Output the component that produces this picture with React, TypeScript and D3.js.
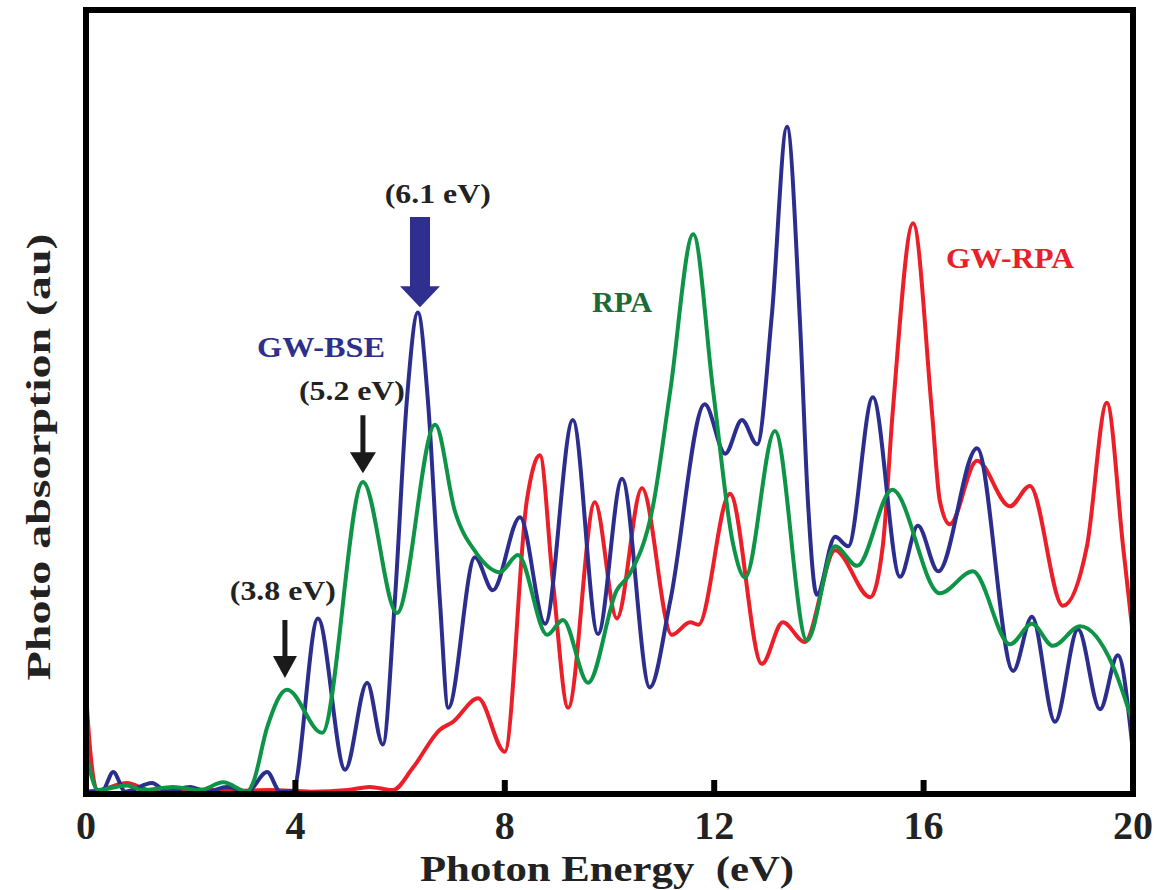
import React from "react";
import * as d3 from "d3";

// ---- data (photon energy in eV, absorption in arbitrary units 0..100) ----
const bseE = [0, 0.32, 0.52, 0.75, 1.26, 1.55, 1.99, 2.31, 2.69, 3.08, 3.46, 3.71, 3.95, 4.43, 4.95, 5.37, 5.67, 5.9, 6.13, 6.34, 6.53, 6.76, 6.92, 7.43, 7.77, 8.29, 8.77, 9.3, 9.78, 10.24, 10.77, 11.16, 11.82, 12.21, 12.53, 12.82, 13.1, 13.39, 13.64, 13.79, 13.96, 14.31, 14.56, 15.03, 15.55, 15.89, 16.28, 17.02, 17.71, 18.07, 18.51, 18.95, 19.37, 19.71, 19.98];
const bseV = [0.3, 0.5, 2.8, 0.3, 1.4, 0.3, 0.9, 0.3, 0.9, 0.3, 2.8, 0.3, 0.4, 22.4, 3.1, 14.2, 6.3, 24.7, 50.3, 61.4, 50.3, 24.7, 11.0, 30.2, 26.0, 35.3, 21.7, 47.7, 20.4, 40.2, 13.6, 24.6, 49.7, 43.4, 47.7, 44.6, 61, 85.1, 60, 37.4, 25.4, 32.8, 31.6, 50.6, 27.7, 34.2, 28.4, 44.1, 15.7, 22.6, 9.2, 21.0, 10.8, 17.7, 6.6];

const rpaE = [0, 0.23, 0.78, 1.09, 1.66, 2.18, 2.62, 3.08, 3.19, 3.46, 3.84, 4.51, 5.29, 5.94, 6.67, 7.05, 7.45, 7.91, 8.25, 8.81, 9.11, 9.59, 10.14, 10.39, 10.83, 11.16, 11.6, 11.98, 12.36, 12.59, 13.16, 13.77, 14.31, 14.73, 15.4, 16.31, 16.94, 17.65, 18.07, 18.47, 18.99, 19.62, 19.98];
const rpaV = [5.4, 0.5, 1.1, 0.5, 0.9, 0.5, 1.5, 0.3, 1.4, 8.5, 13.3, 7.8, 39.8, 23.1, 47.1, 36, 30.8, 28.3, 30.5, 20.3, 22.2, 14.2, 26.0, 28.1, 36.7, 51.4, 71.4, 51.4, 31.9, 27.6, 46.3, 19.6, 31.6, 29.1, 38.8, 25.6, 28.4, 19.1, 21.7, 18.9, 21.4, 16.3, 9.4];

const gwRpaE = [0, 0.08, 0.21, 0.78, 1.22, 2.0, 2.8, 3.5, 4.3, 5.0, 5.42, 5.86, 6.25, 6.76, 7.01, 7.49, 8.0, 8.42, 8.67, 8.92, 9.21, 9.72, 10.14, 10.62, 11.19, 11.54, 11.7, 12.3, 12.91, 13.31, 13.73, 14.31, 14.98, 15.22, 15.41, 15.8, 16.16, 16.31, 16.5, 17.02, 17.65, 18.03, 18.66, 19.12, 19.5, 19.81, 19.98];
const gwRpaV = [12.9, 5.6, 0.5, 1.4, 0.5, 0.6, 0.4, 0.5, 0.3, 0.5, 0.9, 0.5, 3.4, 8.2, 9.2, 12.2, 5.4, 37.4, 43.2, 27.0, 11.0, 37.2, 22.4, 39.0, 20.3, 21.9, 21.6, 38.3, 16.6, 21.9, 19.4, 31.1, 25.1, 31.6, 48.7, 72.8, 48.7, 37.4, 34.4, 42.5, 36.7, 39.3, 24.0, 31.6, 49.9, 31.6, 21.4];

const xTicks = [0, 4, 8, 12, 16, 20];

// annotations: [energy, value] anchors
const arrowE = [3.8, 5.29, 6.38];
const arrowTop = [22.2, 48.3, 73.6];
const arrowTip = [14.8, 40.9, 62.1];
const peakLabels = ["(3.8 eV)", "(5.2 eV)", "(6.1 eV)"];
const peakLabelE = [3.76, 5.08, 6.72];
const peakLabelV = [24.7, 50.3, 75.4];

const seriesNames = ["GW-BSE", "RPA", "GW-RPA"];
const seriesLabelE = [4.49, 10.24, 17.65];
const seriesLabelV = [55.7, 61.5, 67.1];

const W = 1160, H = 890;
const left = 86, right = 1133, top = 10, bottom = 794;
const FONT = "'Liberation Serif', 'Times New Roman', serif";

export default function App() {
  const x = d3.scaleLinear().domain([0, 20]).range([left, right]);
  const y = d3.scaleLinear().domain([0, 100]).range([bottom, top]);
  const line = d3
    .line<[number, number]>()
    .x((d) => x(d[0]))
    .y((d) => y(d[1]))
    .curve(d3.curveMonotoneX);

  const series = [
    { e: gwRpaE, v: gwRpaV, color: "#EC1E28" },
    { e: bseE, v: bseV, color: "#2C2E8E" },
    { e: rpaE, v: rpaV, color: "#0E9447" },
  ];
  const labelColors = ["#2E2F8C", "#1C6A37", "#E8202A"];
  const labelLen = [128, 60, 128];
  const arrowStyle = [
    { shaft: 5, head: 24, hl: 22, color: "#1a1a1a" },
    { shaft: 5, head: 26, hl: 21, color: "#1a1a1a" },
    { shaft: 20, head: 40, hl: 21, color: "#2E2F8F" },
  ];

  const arrowPath = (i: number) => {
    const cx = x(arrowE[i]);
    const yt = y(arrowTop[i]);
    const yp = y(arrowTip[i]);
    const s = arrowStyle[i];
    const yh = yp - s.hl;
    return `M${cx - s.shaft / 2},${yt} L${cx + s.shaft / 2},${yt} L${cx + s.shaft / 2},${yh} L${cx + s.head / 2},${yh} L${cx},${yp} L${cx - s.head / 2},${yh} L${cx - s.shaft / 2},${yh} Z`;
  };

  return (
    <svg
      width={W}
      height={H}
      style={{ position: "absolute", left: 0, top: 0, background: "#fff" }}
      fontFamily={FONT}
    >
      <defs>
        <clipPath id="plotclip">
          <rect x={left} y={top - 2} width={right - left} height={bottom - top + 2} />
        </clipPath>
      </defs>
      <g clipPath="url(#plotclip)">
        {series.map((s, i) => (
          <path
            key={i}
            d={line(s.e.map((e, j) => [e, s.v[j]] as [number, number])) || ""}
            fill="none"
            stroke={s.color}
            strokeWidth={4}
            strokeLinejoin="round"
          />
        ))}
      </g>
      {/* frame */}
      <rect x={left} y={top} width={right - left} height={bottom - top} fill="none" stroke="#000" strokeWidth={6} />
      {/* ticks */}
      {xTicks.slice(1, -1).map((t) => (
        <line key={t} x1={x(t)} x2={x(t)} y1={bottom} y2={bottom - 14} stroke="#000" strokeWidth={6} />
      ))}
      {xTicks.map((t) => (
        <text key={t} x={x(t)} y={839} textAnchor="middle" fontSize={40} fontWeight="bold" fill="#222">
          {t}
        </text>
      ))}
      <text x={607} y={881} textAnchor="middle" fontSize={36} fontWeight="bold" fill="#222" textLength={374} lengthAdjust="spacingAndGlyphs" style={{ whiteSpace: "pre" }}>
        {"Photon Energy  (eV)"}
      </text>
      <text transform="translate(50,457) rotate(-90)" textAnchor="middle" fontSize={33} fontWeight="bold" fill="#222" textLength={447} lengthAdjust="spacingAndGlyphs">
        Photo absorption (au)
      </text>
      {/* arrows */}
      {arrowE.map((_, i) => (
        <path key={i} d={arrowPath(i)} fill={arrowStyle[i].color} />
      ))}
      {peakLabels.map((l, i) => (
        <text key={l} x={x(peakLabelE[i])} y={y(peakLabelV[i])} textAnchor="middle" fontSize={27} fontWeight="bold" fill="#222" textLength={106} lengthAdjust="spacingAndGlyphs">
          {l}
        </text>
      ))}
      {seriesNames.map((n, i) => (
        <text key={n} x={x(seriesLabelE[i])} y={y(seriesLabelV[i])} textAnchor="middle" fontSize={30} fontWeight="bold" fill={labelColors[i]} textLength={labelLen[i]} lengthAdjust="spacingAndGlyphs">
          {n}
        </text>
      ))}
    </svg>
  );
}
